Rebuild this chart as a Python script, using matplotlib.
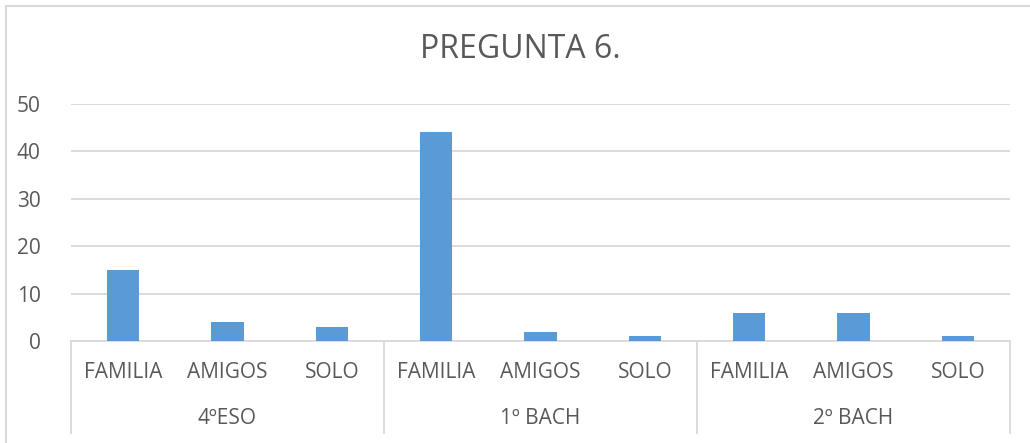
import matplotlib.pyplot as plt
from matplotlib.patches import Rectangle
import numpy as np

plt.rcParams['font.family'] = ['Open Sans', 'DejaVu Sans']

grupos = ['4ºESO', '1º BACH', '2º BACH']
opciones = ['FAMILIA', 'AMIGOS', 'SOLO']
valores = [15, 4, 3, 44, 2, 1, 6, 6, 1]

gris = '#d9d9d9'
texto = '#595959'
azul = '#5b9bd5'

fig = plt.figure(figsize=(10.30, 4.43), dpi=100)
ax = fig.add_axes([71 / 1030, 102 / 443, 939 / 1030, 237 / 443])

x = np.arange(len(valores))
ax.bar(x, valores, width=0.31, color=azul, zorder=3)

ax.set_xlim(-0.5, len(valores) - 0.5)
ax.set_ylim(0, 50)
ax.set_yticks(range(0, 51, 10))
ax.yaxis.grid(True, color=gris, linewidth=1.3, zorder=0)
for s in ['top', 'right', 'left']:
    ax.spines[s].set_visible(False)
ax.spines['bottom'].set_color(gris)
ax.spines['bottom'].set_linewidth(1.3)
ax.tick_params(axis='y', length=0, pad=22, labelsize=15, labelcolor=texto)
ax.tick_params(axis='x', length=0, labelbottom=False)

# etiquetas de dos niveles
trans = ax.get_xaxis_transform()
for i in x:
    ax.text(i, -31 / 237, opciones[i % 3], transform=trans, ha='center', va='center',
            fontsize=15, color=texto)
for g, nombre in enumerate(grupos):
    ax.text(3 * g + 1, -78 / 237, nombre, transform=trans, ha='center', va='center',
            fontsize=15, color=texto)
for sep in np.arange(-0.5, len(valores), 3):
    ax.plot([sep, sep], [0, -92 / 237], transform=trans, color=gris, linewidth=1.3,
            clip_on=False)

fig.text(0.505, 1 - 49 / 443, 'PREGUNTA 6.', ha='center', va='center', fontsize=23,
         color=texto)

# borde del grafico
fig.patches.append(Rectangle((6 / 1030, -0.1), 1.2, 1 - 6 / 443 + 0.1,
                             transform=fig.transFigure, fill=False, edgecolor=gris,
                             linewidth=1.5))

fig.savefig('out.png', dpi=100)
